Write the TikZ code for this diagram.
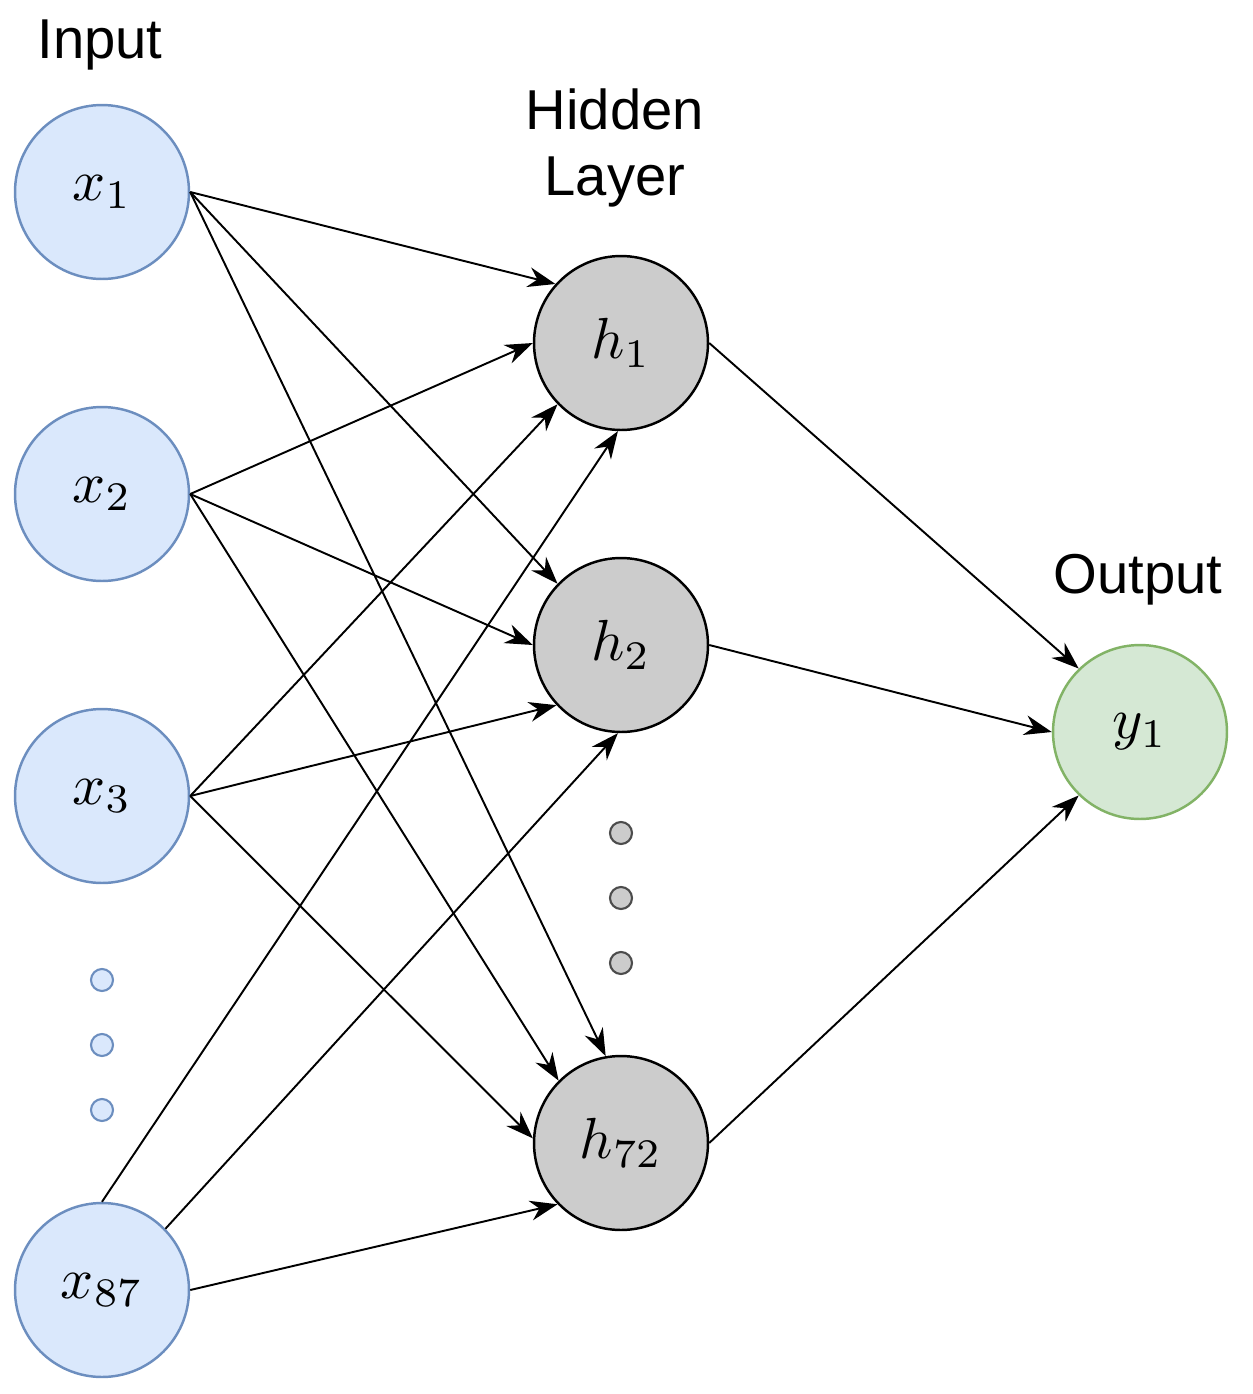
\documentclass[tikz,border=0pt]{standalone}
\usepackage{graphicx}
\usepackage{fontspec}
\setmainfont{Liberation Sans}
\usetikzlibrary{arrows.meta}
\definecolor{bfill}{HTML}{DAE8FC}\definecolor{bdraw}{HTML}{6C8EBF}
\definecolor{gfill}{HTML}{CCCCCC}
\definecolor{vfill}{HTML}{D5E8D4}\definecolor{vdraw}{HTML}{82B366}
\newcommand{\mylab}[1]{\scalebox{3.3}{$#1$}}
\begin{document}
\begin{tikzpicture}[x=0.02cm,y=-0.02cm,
  neu/.style={circle,minimum size=3.48cm,inner sep=0pt,line width=1.4pt,font=\normalsize},
  inp/.style={neu,fill=bfill,draw=bdraw},
  hid/.style={neu,fill=gfill,draw=black},
  outn/.style={neu,fill=vfill,draw=vdraw},
  dot/.style={circle,minimum size=0.44cm,inner sep=0pt,line width=1.2pt},
  lab/.style={font=\fontsize{32}{38}\selectfont,align=center},
  arr/.style={-{Stealth[length=0.55cm,width=0.4cm]},line width=1.1pt}]
\useasboundingbox (0,0) rectangle (1252,1394);
\node[inp] (x1) at (102,192) {\mylab{x_1}};
\node[inp] (x2) at (102,494) {\mylab{x_2}};
\node[inp] (x3) at (102,796) {\mylab{x_3}};
\node[inp] (x87) at (102,1290) {\mylab{x_{87}}};
\node[hid] (h1) at (621,343) {\mylab{h_1}};
\node[hid] (h2) at (621,645) {\mylab{h_2}};
\node[hid] (h72) at (621,1143) {\mylab{h_{72}}};
\node[outn] (y1) at (1140,732) {\mylab{y_1}};
\foreach \i/\y in {a/980,b/1045,c/1110}
  \node[dot,fill=bfill,draw=bdraw] (di\i) at (102,\y) {};
\foreach \i/\y in {a/833,b/898,c/963}
  \node[dot,fill=gfill,draw=black!70] (dh\i) at (621,\y) {};
\node[lab] (lin) at (100,45) {Input};
\node[lab] (lhid) at (615,148) {Hidden\\Layer};
\node[lab] (lout) at (1138,580) {Output};
\draw[arr] (x1.east) -- (h1.138);
\draw[arr] (x1.east) -- (h2.136);
\draw[arr] (x1.east) -- (h72.100);
\draw[arr] (x2.east) -- (h1.180);
\draw[arr] (x2.east) -- (h2.180);
\draw[arr] (x2.east) -- (h72.135);
\draw[arr] (x3.east) -- (h1.224);
\draw[arr] (x3.east) -- (h2.223);
\draw[arr] (x3.east) -- (h72.177);
\draw[arr] (x87.90) -- (h1.268);
\draw[arr] (x87.44) -- (h2.268);
\draw[arr] (x87.east) -- (h72.224);
\draw[arr] (h1.east) -- (y1.134);
\draw[arr] (h2.east) -- (y1.180);
\draw[arr] (h72.east) -- (y1.226);
\end{tikzpicture}
\end{document}
